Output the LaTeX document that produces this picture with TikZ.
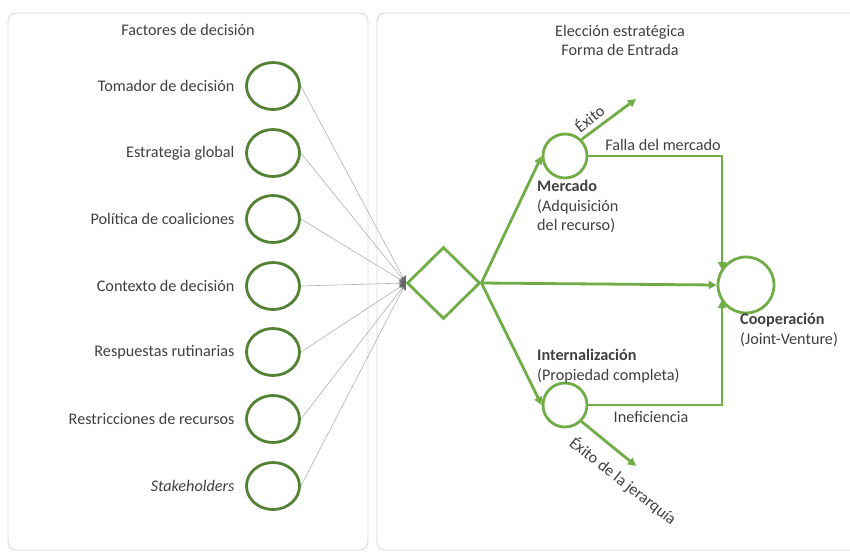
\documentclass[tikz,border=0pt]{standalone}
\usepackage{fontspec}
\setmainfont{Carlito}
\usetikzlibrary{shapes.geometric,arrows.meta}
\definecolor{txt}{HTML}{404040}
\definecolor{dgreen}{HTML}{548235}
\definecolor{lgreen}{HTML}{70AD47}
\definecolor{panel}{HTML}{D9D9D9}
\definecolor{thin}{HTML}{B0B0B0}
\tikzset{
  panelbox/.style={draw=panel, line width=0.9pt, rounded corners=8pt},
  factor/.style={ellipse, draw=dgreen, line width=2.8pt, minimum width=53pt, minimum height=47pt, inner sep=0pt},
  flab/.style={anchor=east, text=txt, font=\fontsize{16.2}{19.5}\selectfont},
  title/.style={text=txt, font=\fontsize{16.2}{19.5}\selectfont, align=center},
  gline/.style={draw=thin, line width=0.6pt, -{Stealth[length=7pt,width=7pt,color=gray!80!black]}},
  gcirc/.style={circle, draw=lgreen, line width=2.8pt, inner sep=0pt},
  garrow/.style={draw=lgreen, line width=2.8pt, -{Triangle[length=8pt,width=8pt]}},
  glab/.style={text=txt, font=\fontsize{16.2}{19.5}\selectfont},
}
\begin{document}
\begin{tikzpicture}[x=1pt,y=-1pt]
\useasboundingbox (0,0) rectangle (850,552);
\fill[white] (0,0) rectangle (850,552);
% panels
\draw[panelbox] (8,13) rectangle (368,550);
\draw[panelbox] (377,13) rectangle (862,550);
\node[title] (t1) at (188,30) {Factores de decisión};
\node[title] (t2) at (620,40.5) {Elección estratégica\\Forma de Entrada};
% factors
\foreach \i/\y/\t in {1/86/Tomador de decisión,2/153/Estrategia global,3/219/Política de coaliciones,4/286/Contexto de decisión,5/352/Respuestas rutinarias,6/419/Restricciones de recursos,7/486/\textit{Stakeholders}}{
  \node[factor] (c\i) at (273,\y) {};
  \node[flab] (l\i) at (238,\y) {\t};
}
\coordinate (hub) at (406,283);
\foreach \i in {1,...,7}{
  \draw[gline] (c\i.east) -- (hub);
}
% diamond
\node[diamond, draw=lgreen, line width=2.8pt, minimum width=73pt, minimum height=72pt, inner sep=0pt] (d) at (443.5,283) {};
% right circles
\node[gcirc, minimum size=44pt] (m) at (565,156) {};
\node[gcirc, minimum size=44pt] (in) at (565,405) {};
\node[gcirc, minimum size=56pt] (co) at (746,285) {};
\coordinate (ex1) at (636,99);
\coordinate (ex2) at (636,466);
\coordinate (fk) at (722,156);
\coordinate (ik) at (722,405);
\coordinate (ct) at (722,270);
\coordinate (cb) at (722,300);
\draw[garrow] (d.east) -- (m.west);
\draw[garrow] (d.east) -- (co.west);
\draw[garrow] (d.east) -- (in.west);
\draw[garrow] (m.45) -- (ex1);
\draw[garrow] (in.-45) -- (ex2);
\draw[garrow] (m.east) -- (fk) -- (ct);
\draw[garrow] (in.east) -- (ik) -- (cb);
% labels
\node[glab, rotate=38] (lex) at (589,118) {Éxito};
\node[glab] (lfm) at (663,145) {Falla del mercado};
\node[glab] (lin) at (651,417) {Ineficiencia};
\node[glab, rotate=-38] (lej) at (623,481) {Éxito de la jerarquía};
\node[glab, anchor=north west, align=left, inner sep=0pt] (lm) at (537,180) {\textbf{Mercado}\\(Adquisición\\del recurso)};
\node[glab, anchor=north west, align=left, inner sep=0pt] (li) at (537,349) {\textbf{Internalización}\\(Propiedad completa)};
\node[glab, anchor=north west, align=left, inner sep=0pt] (lc) at (740,313) {\textbf{Cooperación}\\(Joint-Venture)};
\end{tikzpicture}
\end{document}
